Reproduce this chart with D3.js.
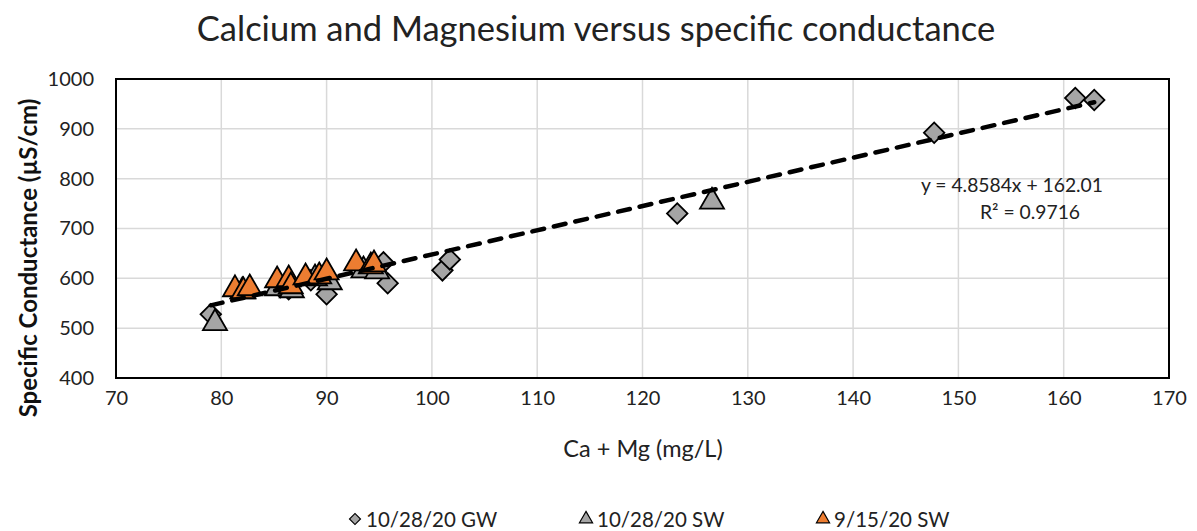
<!DOCTYPE html>
<html>
<head>
<meta charset="utf-8">
<script src="https://cdn.jsdelivr.net/npm/d3@7"></script>
<style>
  body { margin: 0; background: #fff; }
  svg { display: block; font-family: Lato, "Noto Sans", sans-serif; }
</style>
</head>
<body>
<svg id="chart" width="1197" height="531"></svg>
<script>
// --- data ---
const gwX = [79.0, 90.0, 95.8, 95.4, 101.0, 101.7, 86.4, 88.5, 85.6, 123.3, 147.7, 161.1, 162.9];
const gwY = [528, 568, 590, 632, 616, 638, 578, 596, 582, 730, 892, 962, 958];

const sw1028X = [79.4, 85.3, 86.7, 90.3, 93.5, 94.8, 82.0, 88.9, 126.6];
const sw1028Y = [510, 580, 576, 592, 616, 614, 574, 600, 754];

const sw915X = [81.3, 82.1, 82.7, 85.3, 86.4, 86.6, 88.0, 89.3, 90.0, 92.8, 94.2, 94.5];
const sw915Y = [578, 574, 580, 596, 598, 584, 602, 604, 612, 630, 624, 628];

const seriesNames = ["10/28/20 GW", "10/28/20 SW", "9/15/20 SW"];
const xTicks = [70, 80, 90, 100, 110, 120, 130, 140, 150, 160, 170];
const yTicks = [400, 500, 600, 700, 800, 900, 1000];

const slope = 4.8584, intercept = 162.01;
const trendX = [79.0, 162.9];
const eqText = "y = 4.8584x + 162.01";
const r2Text = "R² = 0.9716";

// --- layout ---
const svg = d3.select("#chart");
const plotL = 116, plotR = 1169, plotT = 79, plotB = 378;

const x = d3.scaleLinear().domain([70, 170]).range([plotL, plotR]);
const y = d3.scaleLinear().domain([400, 1000]).range([plotB, plotT]);

const gray = "#a5a5a5", orange = "#ed7d31";

// title
svg.append("text").attr("x", 596).attr("y", 41).attr("text-anchor", "middle")
  .attr("font-size", 34.5).attr("fill", "#222")
  .text("Calcium and Magnesium versus specific conductance");

// gridlines
const grid = svg.append("g").attr("stroke", "#d9d9d9").attr("stroke-width", 1.5);
grid.selectAll(".vx").data(xTicks.slice(1, -1)).join("line")
  .attr("x1", d => x(d)).attr("x2", d => x(d)).attr("y1", plotT).attr("y2", plotB);
grid.selectAll(".hy").data(yTicks.slice(1, -1)).join("line")
  .attr("x1", plotL).attr("x2", plotR).attr("y1", d => y(d)).attr("y2", d => y(d));

// axes (labels only, frame drawn below)
const xAxis = svg.append("g").attr("transform", `translate(0,${plotB})`)
  .call(d3.axisBottom(x).tickValues(xTicks).tickFormat(d3.format("d")).tickSize(0).tickPadding(13));
const yAxis = svg.append("g").attr("transform", `translate(${plotL},0)`)
  .call(d3.axisLeft(y).tickValues(yTicks).tickFormat(d3.format("d")).tickSize(0).tickPadding(22));
[xAxis, yAxis].forEach(a => {
  a.select(".domain").remove();
  a.selectAll("text").attr("font-size", 20).attr("fill", "#222")
    .attr("font-family", "Lato, 'Noto Sans', sans-serif");
});

// plot frame
svg.append("rect").attr("x", plotL).attr("y", plotT)
  .attr("width", plotR - plotL).attr("height", plotB - plotT)
  .attr("fill", "none").attr("stroke", "#000").attr("stroke-width", 2);

// axis titles
svg.append("text").attr("x", 643).attr("y", 457).attr("text-anchor", "middle")
  .attr("font-size", 23.5).attr("fill", "#222").text("Ca + Mg (mg/L)");
svg.append("text").attr("transform", `translate(37,258) rotate(-90)`)
  .attr("text-anchor", "middle").attr("font-size", 24).attr("font-weight", "bold")
  .attr("fill", "#111").text("Specific Conductance (µS/cm)");

// markers
const diamond = d3.symbol().type(d3.symbolSquare).size(210)();
const tri = d3.symbol().type(d3.symbolTriangle).size(250)();

const pts = (xs, ys) => xs.map((v, i) => ({ x: v, y: ys[i] }));

svg.append("g").selectAll("path").data(pts(gwX, gwY)).join("path")
  .attr("d", diamond)
  .attr("transform", d => `translate(${x(d.x)},${y(d.y)}) rotate(45)`)
  .attr("fill", gray).attr("stroke", "#000").attr("stroke-width", 1.8);

svg.append("g").selectAll("path").data(pts(sw1028X, sw1028Y)).join("path")
  .attr("d", tri)
  .attr("transform", d => `translate(${x(d.x)},${y(d.y)})`)
  .attr("fill", gray).attr("stroke", "#000").attr("stroke-width", 1.8);

svg.append("g").selectAll("path").data(pts(sw915X, sw915Y)).join("path")
  .attr("d", tri)
  .attr("transform", d => `translate(${x(d.x)},${y(d.y)})`)
  .attr("fill", orange).attr("stroke", "#000").attr("stroke-width", 1.8);

// trendline
svg.append("line")
  .attr("x1", x(trendX[0])).attr("y1", y(slope * trendX[0] + intercept))
  .attr("x2", x(trendX[1])).attr("y2", y(slope * trendX[1] + intercept))
  .attr("stroke", "#000").attr("stroke-width", 4.5)
  .attr("stroke-dasharray", "12,10").attr("stroke-linecap", "round");

// equation
svg.append("text").attr("x", 1103).attr("y", 192).attr("text-anchor", "end")
  .attr("font-size", 19.3).attr("fill", "#222").text(eqText);
svg.append("text").attr("x", 1030).attr("y", 219).attr("text-anchor", "middle")
  .attr("font-size", 19.3).attr("fill", "#222").text(r2Text);

// legend
const legendX = [355, 586, 823];
const legendFill = [gray, gray, orange];
const legendSym = [d3.symbol().type(d3.symbolSquare).size(60)(), d3.symbol().type(d3.symbolTriangle).size(75)(), d3.symbol().type(d3.symbolTriangle).size(75)()];
const lg = svg.append("g");
seriesNames.forEach((name, i) => {
  lg.append("path").attr("d", legendSym[i])
    .attr("transform", `translate(${legendX[i]},${519})` + (i === 0 ? " rotate(45)" : ""))
    .attr("fill", legendFill[i]).attr("stroke", "#000").attr("stroke-width", 1.2);
  lg.append("text").attr("x", legendX[i] + 11).attr("y", 527)
    .attr("font-size", 20.5).attr("fill", "#222").text(name);
});
</script>
</body>
</html>
